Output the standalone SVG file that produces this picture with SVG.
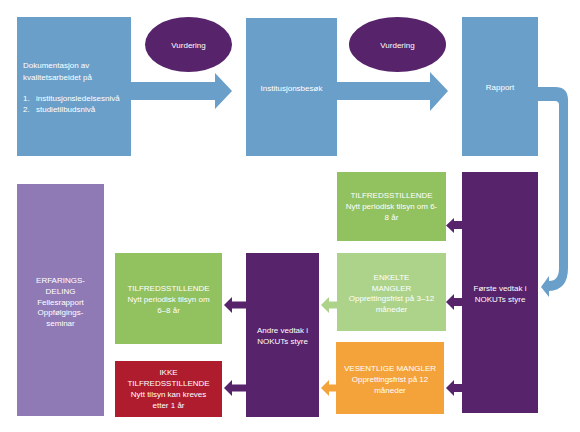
<svg xmlns="http://www.w3.org/2000/svg" width="580" height="432" viewBox="0 0 580 432">
<style>
text{font-family:"Liberation Sans",Arial,sans-serif;font-size:8px;fill:#fff}
.c{text-anchor:middle}
.blue{fill:#6A9FCA}
.purple{fill:#57236A}
.green{fill:#92C15F}
.lgreen{fill:#ADD38A}
.orange{fill:#F4A23A}
.red{fill:#AF1C2D}
.lav{fill:#8F7AB6}
</style>
<rect width="580" height="432" fill="#fff"/>
<g id="connectors">
<path class="blue" d="M131,82 H215 V73 L232,91 L215,109 V100 H131 Z"/>
<path class="blue" d="M337,82 H430 V72 L448,91 L430,111 V100 H337 Z"/>
<path class="blue" d="M538,87 H555 Q568,87 568,100 V268 Q568,290 549,291 V297 L541,287 L549,276 V281 Q559,281 559,268 V105 Q559,101 555,101 H538 Z"/>
<path class="purple" d="M462,221 H454 V218 L446,225.5 L454,233 V229 H462 Z"/>
<path class="purple" d="M462,298 H454 V294 L446,302 L454,310 V306 H462 Z"/>
<path class="purple" d="M462,384 H454 V380 L446,388 L454,396 V392 H462 Z"/>
<path class="lgreen" d="M337,301.5 H329 V297 L321,305 L329,313 V308.5 H337 Z"/>
<path class="orange" d="M336,384.5 H329 V380 L321,388 L329,396 V391.5 H336 Z"/>
<path class="purple" d="M246,301.5 H232 V297 L224,305 L232,313 V308.5 H246 Z"/>
<path class="purple" d="M246,384.5 H232 V380 L224,388 L232,396 V391.5 H246 Z"/>
</g>
<g id="dokumentasjon">
<rect class="blue" x="17" y="17" width="114" height="139"/>
<text x="23" y="68">Dokumentasjon av</text>
<text x="23" y="79.5">kvalitetsarbeidet på</text>
<text x="23" y="101">1.</text><text x="36" y="101">institusjonsledelsesnivå</text>
<text x="23" y="112">2.</text><text x="36" y="112">studietilbudsnivå</text>
</g>
<g id="vurdering1">
<ellipse class="purple" cx="188.5" cy="44.5" rx="43.5" ry="27.5"/>
<text class="c" x="188.5" y="48">Vurdering</text>
</g>
<g id="institusjonsbesok">
<rect class="blue" x="246" y="18" width="91" height="138"/>
<text class="c" x="291.5" y="91">Institusjonsbesøk</text>
</g>
<g id="vurdering2">
<ellipse class="purple" cx="397.5" cy="44.5" rx="48.5" ry="27.5"/>
<text class="c" x="397.5" y="48">Vurdering</text>
</g>
<g id="rapport">
<rect class="blue" x="462" y="17" width="76" height="139"/>
<text class="c" x="500" y="90">Rapport</text>
</g>
<g id="forste-vedtak">
<rect class="purple" x="462" y="172" width="76" height="241"/>
<text class="c" x="500" y="291">Første vedtak i</text>
<text class="c" x="500" y="302">NOKUTs styre</text>
</g>
<g id="tilfreds1">
<rect class="green" x="337" y="172" width="109" height="69"/>
<text class="c" x="391.5" y="198">TILFREDSSTILLENDE</text>
<text class="c" x="391.5" y="209">Nytt periodisk tilsyn om 6-</text>
<text class="c" x="391.5" y="220">8 år</text>
</g>
<g id="enkelte">
<rect class="lgreen" x="337" y="253" width="109" height="78"/>
<text class="c" x="391.5" y="280">ENKELTE</text>
<text class="c" x="391.5" y="290.5">MANGLER</text>
<text class="c" x="391.5" y="301">Opprettingsfrist på 3–12</text>
<text class="c" x="391.5" y="311.5">måneder</text>
</g>
<g id="vesentlige">
<rect class="orange" x="336" y="342" width="108" height="72"/>
<text class="c" x="390" y="371">VESENTLIGE MANGLER</text>
<text class="c" x="390" y="382">Opprettingsfrist på 12</text>
<text class="c" x="390" y="393">måneder</text>
</g>
<g id="andre-vedtak">
<rect class="purple" x="246" y="253" width="73" height="164"/>
<text class="c" x="282.5" y="333">Andre vedtak i</text>
<text class="c" x="282.5" y="344">NOKUTs styre</text>
</g>
<g id="tilfreds2">
<rect class="green" x="115" y="253" width="107" height="91"/>
<text class="c" x="168.5" y="291">TILFREDSSTILLENDE</text>
<text class="c" x="168.5" y="302">Nytt periodisk tilsyn om</text>
<text class="c" x="168.5" y="313">6–8 år</text>
</g>
<g id="ikke-tilfreds">
<rect class="red" x="115" y="361" width="107" height="56"/>
<text class="c" x="168.5" y="375">IKKE</text>
<text class="c" x="168.5" y="386">TILFREDSSTILLENDE</text>
<text class="c" x="168.5" y="397">Nytt tilsyn kan kreves</text>
<text class="c" x="168.5" y="408">etter 1 år</text>
</g>
<g id="erfaringsdeling">
<rect class="lav" x="17" y="184" width="87" height="232"/>
<text class="c" x="60.5" y="283">ERFARINGS-</text>
<text class="c" x="60.5" y="294">DELING</text>
<text class="c" x="60.5" y="304.5">Fellesrapport</text>
<text class="c" x="60.5" y="315">Oppfølgings-</text>
<text class="c" x="60.5" y="326">seminar</text>
</g>
</svg>
